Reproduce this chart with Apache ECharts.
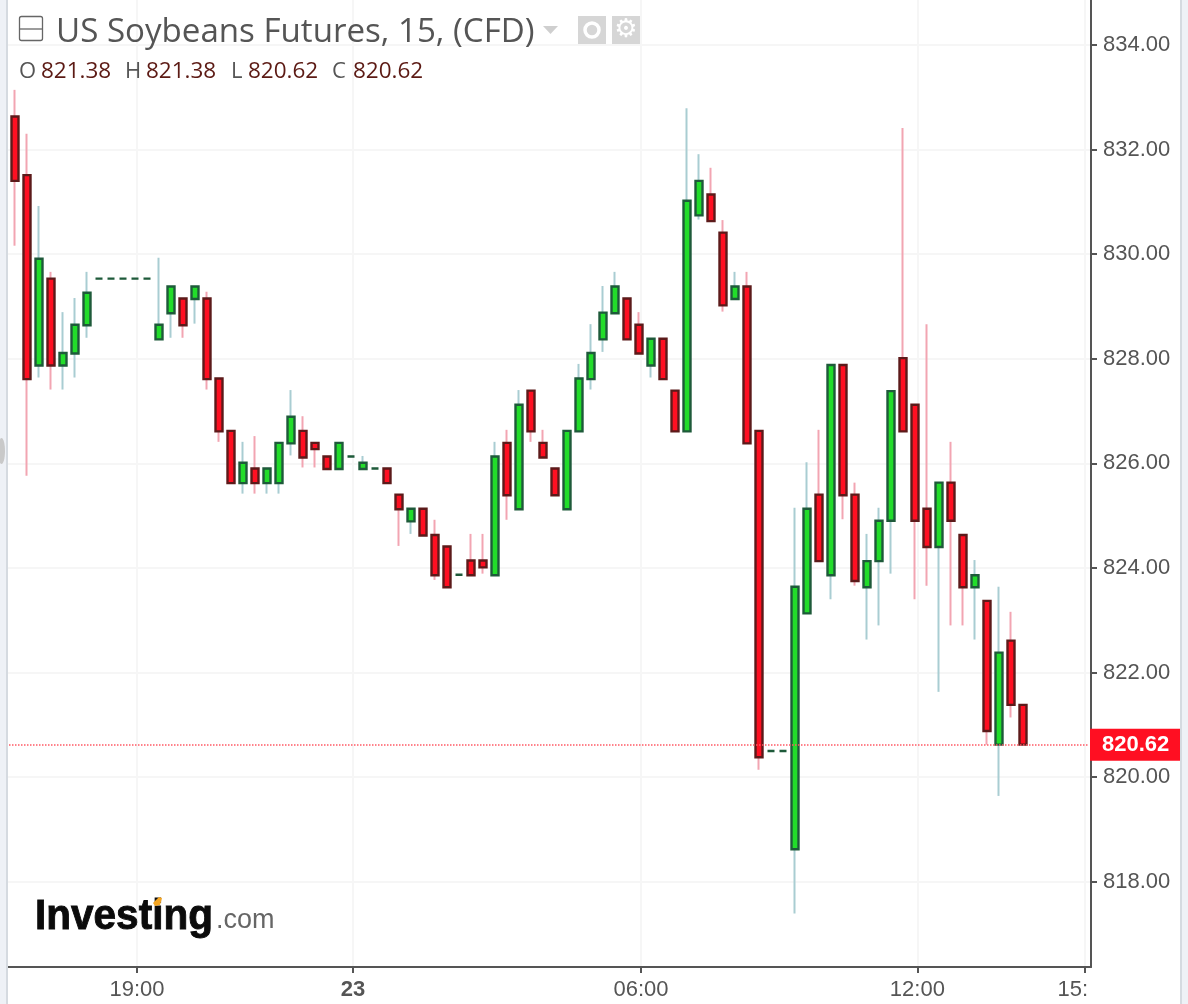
<!DOCTYPE html>
<html><head><meta charset="utf-8">
<style>html,body{margin:0;padding:0;background:#fff}#c{width:1188px;height:1004px}</style>
<script src="https://cdn.jsdelivr.net/npm/echarts@6/dist/echarts.min.js"></script>
</head><body><div id="c"></div>
<script>
const opens=[832.63,831.51,827.87,829.53,827.87,828.10,828.64,829.53,829.53,829.53,829.53,829.53,828.37,828.87,829.15,829.14,829.15,827.62,826.62,825.62,825.90,825.62,825.62,826.38,826.62,826.39,826.13,825.89,826.13,825.89,825.90,825.90,825.40,824.89,825.13,824.63,824.41,823.87,824.14,824.14,823.86,826.39,825.12,827.39,826.39,825.90,825.12,826.61,827.61,828.37,828.87,829.15,828.65,827.87,828.38,827.39,826.61,830.74,831.14,830.41,829.14,829.38,826.62,820.50,820.50,818.62,823.13,825.40,823.86,827.88,825.40,823.63,824.13,824.90,828.01,827.12,825.13,824.40,825.63,824.63,823.63,823.37,820.62,822.61,821.38];
const closes=[831.40,827.61,829.91,827.87,828.11,828.65,829.26,829.53,829.53,829.53,829.53,829.53,828.65,829.38,828.64,829.38,827.61,826.61,825.62,826.01,825.62,825.90,826.39,826.89,826.11,826.27,825.89,826.39,826.13,826.01,825.90,825.62,825.12,825.13,824.62,823.86,823.63,823.87,823.86,824.01,826.13,825.39,827.12,826.61,826.11,825.39,826.62,827.62,828.11,828.88,829.38,828.37,828.10,828.38,827.61,826.61,831.02,831.40,830.63,829.02,829.38,826.38,820.38,820.50,820.50,823.64,825.13,824.13,827.88,825.39,823.75,824.13,824.90,827.38,826.61,824.90,824.40,825.63,824.90,823.63,823.86,820.88,822.38,821.38,820.62];
const highs=[833.14,832.30,830.92,829.66,828.89,829.16,829.66,829.53,829.53,829.53,829.53,829.53,829.93,829.38,829.15,829.38,829.28,827.62,826.62,826.41,826.52,825.90,826.39,827.40,826.90,826.39,826.13,826.39,826.13,826.14,825.90,825.90,825.40,825.13,825.13,824.92,824.41,823.87,824.65,824.65,826.41,826.64,827.40,827.39,826.64,825.90,826.62,827.90,828.66,829.39,829.66,829.15,828.89,828.38,828.38,827.39,832.79,831.91,831.65,830.65,829.66,829.66,826.62,820.50,820.50,825.15,826.02,826.64,827.88,827.88,825.63,824.65,825.15,827.38,832.41,827.12,828.66,825.63,826.41,824.63,824.15,823.37,823.64,823.16,821.38];
const lows=[830.16,825.76,827.64,827.41,827.41,827.64,828.40,829.53,829.53,829.53,829.53,829.53,828.37,828.40,828.40,828.67,827.41,826.41,825.62,825.42,825.42,825.42,825.42,826.15,825.92,825.92,825.89,825.89,826.13,825.89,825.90,825.62,824.42,824.65,824.62,823.77,823.63,823.87,823.86,823.89,823.86,824.92,825.12,826.41,826.11,825.39,825.12,826.61,827.41,828.13,828.87,828.37,828.10,827.64,827.61,826.61,826.61,830.66,830.63,828.90,829.14,826.38,820.14,820.50,820.50,817.39,823.13,824.13,823.40,824.93,823.66,822.63,822.90,823.89,826.61,823.40,823.66,821.63,822.90,822.90,822.63,820.62,819.64,821.14,820.62];
const priceTicks=[818,820,822,824,826,828,830,832,834];
const timeTickBars=[10.17,28.17,52.17,75.2,89.17];
const timeTickLabels=['19:00','23','06:00','12:00','15:00'];
const titleText='US Soybeans Futures, 15, (CFD)';
const ohlcNames=['O','H','L','C'];
const ohlcValues=['821.38','821.38','820.62','820.62'];
const lastPrice=820.62;

const categories=opens.map((_,i)=>String(i));
while(categories.length<90)categories.push('');
const yMin=816.369,yMax=834.858;
const wicks=opens.map((o,i)=>[o,closes[i],lows[i],highs[i]]);
const bodies=opens.map((o,i)=>[o,closes[i],Math.min(o,closes[i]),Math.max(o,closes[i])]);
const axisDark='#555555',gridC='#f6f6f6';
const sans='"Liberation Sans",Arial,sans-serif';

const gfx=[
 {type:'rect',z:50,shape:{x:0,y:0,width:6,height:1004},style:{fill:'#eef1f6'}},
 {type:'rect',z:50,shape:{x:6,y:0,width:2,height:1004},style:{fill:'#d5dae0'}},
 {type:'ellipse',z:51,shape:{cx:1.5,cy:451,rx:3.5,ry:13},style:{fill:'#c9c9c9'}},
 {type:'rect',z:50,shape:{x:1180,y:0,width:2,height:1004},style:{fill:'#d5dae0'}},
 {type:'rect',z:50,shape:{x:1182,y:0,width:6,height:1004},style:{fill:'#eef1f6'}},
 {type:'rect',z:50,shape:{x:1087,y:974,width:40,height:30},style:{fill:'#fff'}},
 {type:'rect',z:50,shape:{x:19.5,y:16.5,width:23,height:24,r:2},style:{fill:'none',stroke:'#666',lineWidth:1.3}},
 {type:'line',z:50,shape:{x1:20,y1:29,x2:42,y2:29},style:{stroke:'#666',lineWidth:1.3}},
 {type:'text',z:50,x:56,y:33,style:{text:titleText,font:'32.3px "Open Sans",sans-serif',fill:'#555',textVerticalAlign:'middle',textAlign:'left'},scaleX:1.025},
 {type:'polygon',z:50,shape:{points:[[543,26],[558,26],[550.5,34]]},style:{fill:'#cfcfcf'}},
 {type:'rect',z:50,shape:{x:578,y:16,width:28,height:28},style:{fill:'#d6d6d6'}},
 {type:'circle',z:51,shape:{cx:592,cy:30,r:7},style:{fill:'none',stroke:'#fff',lineWidth:3.5}},
 {type:'rect',z:50,shape:{x:612,y:16,width:28,height:28},style:{fill:'#d6d6d6'}},
 {type:'text',z:51,x:626,y:30,style:{text:'\u2699',font:'26px "DejaVu Sans"',fill:'#fff',textAlign:'center',textVerticalAlign:'middle'}},
 {type:'text',z:50,x:35,y:917,style:{text:'Investing',font:'bold 42px '+sans,fill:'#0b0b0b',stroke:'#0b0b0b',lineWidth:0.9,textVerticalAlign:'middle'},scaleX:0.965},
 {type:'polygon',z:52,shape:{points:[[153,903],[159,897],[162,898],[160,905],[155,906]]},style:{fill:'#f5a623'}},
 {type:'text',z:50,x:216,y:921,style:{text:'.com',font:'27px '+sans,fill:'#666',textVerticalAlign:'middle'}}
];
const labelX=[19,125,231,332],valueX=[41,146,248,353];
ohlcNames.forEach((n,i)=>{
 gfx.push({type:'text',z:50,x:labelX[i],y:71.5,style:{text:n,font:'22px "Open Sans",sans-serif',fill:'#555',textVerticalAlign:'middle'}});
 gfx.push({type:'text',z:50,x:valueX[i],y:71.5,style:{text:ohlcValues[i],font:'22.5px "Open Sans",sans-serif',fill:'#5c1a14',textVerticalAlign:'middle'}});
});

const chart=echarts.init(document.getElementById('c'),null,{renderer:'canvas'});
chart.setOption({
 animation:false,backgroundColor:'#fff',
 graphic:gfx,
 grid:[{left:8,top:0,width:1083,height:967},{left:9,top:0,width:1080,height:967}],
 xAxis:[
  {type:'value',gridIndex:0,min:-0.583,max:89.67,
   axisLine:{onZero:false,lineStyle:{color:axisDark,width:2}},
   axisTick:{length:6,customValues:timeTickBars,lineStyle:{color:axisDark,width:2}},
   axisLabel:{customValues:timeTickBars,margin:12,fontFamily:sans,fontSize:22,color:axisDark,hideOverlap:false,
    showMinLabel:true,showMaxLabel:true,
    formatter:v=>{const k=timeTickBars.indexOf(v),t=timeTickLabels[k];return t==='23'?'{b|23}':t;},
    rich:{b:{fontFamily:sans,fontSize:22,fontWeight:'bold',color:axisDark}}},
   splitLine:{show:true,lineStyle:{color:gridC,width:2}}},
  {type:'category',gridIndex:1,data:categories,boundaryGap:true,show:false}
 ],
 yAxis:[
  {type:'value',gridIndex:0,position:'right',min:yMin,max:yMax,
   axisLine:{show:true,onZero:false,lineStyle:{color:axisDark,width:2}},
   axisTick:{show:true,length:6,customValues:priceTicks,lineStyle:{color:axisDark,width:2}},
   axisLabel:{customValues:priceTicks,margin:12,padding:[5,0,0,0],fontFamily:sans,fontSize:22,color:axisDark,formatter:v=>v.toFixed(2)},
   splitLine:{show:true,lineStyle:{color:gridC,width:2}}},
  {type:'value',gridIndex:1,min:yMin,max:yMax,show:false,splitLine:{show:false}}
 ],
 series:[
  {type:'candlestick',name:'wicks',xAxisIndex:1,yAxisIndex:1,data:wicks,barWidth:1,silent:true,z:3,
   itemStyle:{color:'#a9cdd2',color0:'#f2a5b2',borderColor:'#a9cdd2',borderColor0:'#f2a5b2',borderColorDoji:'#a9cdd2',borderWidth:2}},
  {type:'candlestick',name:'bodies',xAxisIndex:1,yAxisIndex:1,data:bodies,barWidth:8,silent:true,z:4,
   itemStyle:{color:'#22dd2a',color0:'#ff0f22',borderColor:'#1e5a3a',borderColor0:'#5c1a1a',borderColorDoji:'#1e5a3a',borderWidth:2.4},
   markLine:{silent:true,symbol:'none',animation:false,z:6,
    lineStyle:{color:'#ff5a66',type:'dotted',width:1.5},
    label:{show:true,position:'end',distance:1,formatter:()=>lastPrice.toFixed(2),fontFamily:sans,fontSize:22,fontWeight:'bold',color:'#fff',
     backgroundColor:'#ff0f22',padding:[5,11,5,12]},
    data:[{yAxis:lastPrice}]}}
 ]
});
</script></body></html>
